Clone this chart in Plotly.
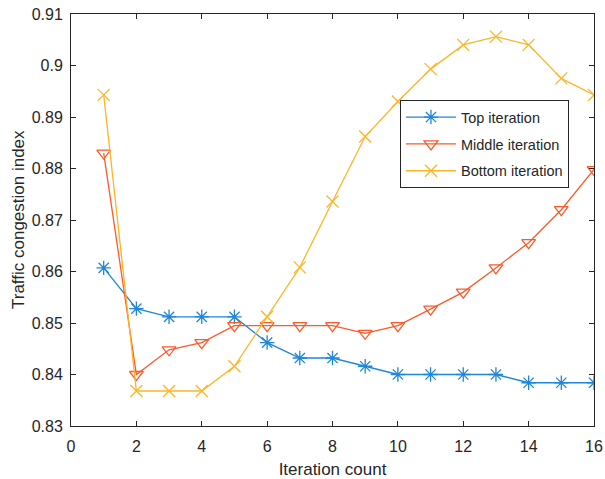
import plotly.graph_objects as go

iterations = list(range(1, 17))
top_iteration = [0.8607, 0.8528, 0.8512, 0.8512, 0.8512, 0.8462, 0.8432, 0.8432,
                 0.8416, 0.8400, 0.8400, 0.8400, 0.8400, 0.8384, 0.8384, 0.8384]
middle_iteration = [0.8830, 0.8400, 0.8448, 0.8462, 0.8495, 0.8495, 0.8495, 0.8495,
                    0.8480, 0.8495, 0.8527, 0.8560, 0.8607, 0.8656, 0.8720, 0.8798]
bottom_iteration = [0.8943, 0.8368, 0.8368, 0.8368, 0.8416, 0.8512, 0.8608, 0.8736,
                    0.8862, 0.8930, 0.8993, 0.9040, 0.9056, 0.9040, 0.8975, 0.8943]

x_ticks = [0, 2, 4, 6, 8, 10, 12, 14, 16]
y_ticks = [0.83, 0.84, 0.85, 0.86, 0.87, 0.88, 0.89, 0.9, 0.91]
y_tick_labels = ["0.83", "0.84", "0.85", "0.86", "0.87", "0.88", "0.89", "0.9", "0.91"]

blue = "#1f86d8"
red = "#fb5a2a"
yellow = "#fdb526"

fig = go.Figure()
fig.add_trace(go.Scatter(
    x=iterations, y=top_iteration, name="Top iteration", mode="lines+markers",
    legendgroup="a",
    line=dict(color=blue, width=1.3),
    marker=dict(symbol="asterisk-open", size=12, color=blue, line=dict(color=blue, width=1.3)),
))
fig.add_trace(go.Scatter(
    x=iterations, y=middle_iteration, name="Middle iteration", mode="lines+markers",
    legendgroup="b",
    line=dict(color=red, width=1.3),
    marker=dict(symbol="triangle-down-open", size=12, color=red, line=dict(color=red, width=1.3)),
))
fig.add_trace(go.Scatter(
    x=iterations, y=bottom_iteration, name="Bottom iteration", mode="lines+markers",
    legendgroup="c",
    line=dict(color=yellow, width=1.3),
    marker=dict(symbol="x-thin-open", size=12, color=yellow, line=dict(color=yellow, width=1.3)),
))

axis_common = dict(
    showgrid=False, zeroline=False, showline=True, linecolor="#262626", linewidth=1,
    mirror="ticks", ticks="inside", ticklen=5, tickcolor="#262626", automargin=False,
    tickfont=dict(family="Liberation Sans, Arial, sans-serif", size=16, color="#262626"),
)

fig.update_layout(
    width=605, height=479,
    margin=dict(l=71, r=11, t=14, b=53),
    paper_bgcolor="white", plot_bgcolor="white",
    font=dict(family="Liberation Sans, Arial, sans-serif", color="#262626"),
    xaxis=dict(range=[0, 16], tickvals=x_ticks, ticklabelstandoff=6,
               title=dict(text="Iteration count", font=dict(size=17)),
               **axis_common),
    yaxis=dict(range=[0.83, 0.91], tickvals=y_ticks, ticktext=y_tick_labels,
               ticklabelstandoff=4,
               **axis_common),
    legend=dict(
        x=0.629, y=0.791, xanchor="left", yanchor="top",
        bgcolor="white", bordercolor="#262626", borderwidth=1,
        font=dict(size=14.5, color="#262626"),
        tracegroupgap=5, itemwidth=50,
    ),
    annotations=[dict(
        text="Traffic congestion index", textangle=-90,
        xref="paper", yref="paper", x=-0.1013, y=0.5,
        xanchor="center", yanchor="middle", showarrow=False,
        font=dict(size=17, color="#262626"),
    )],
)

fig.write_html("out.html", post_script="document.body.style.margin='0';",
               config={"displayModeBar": False})
